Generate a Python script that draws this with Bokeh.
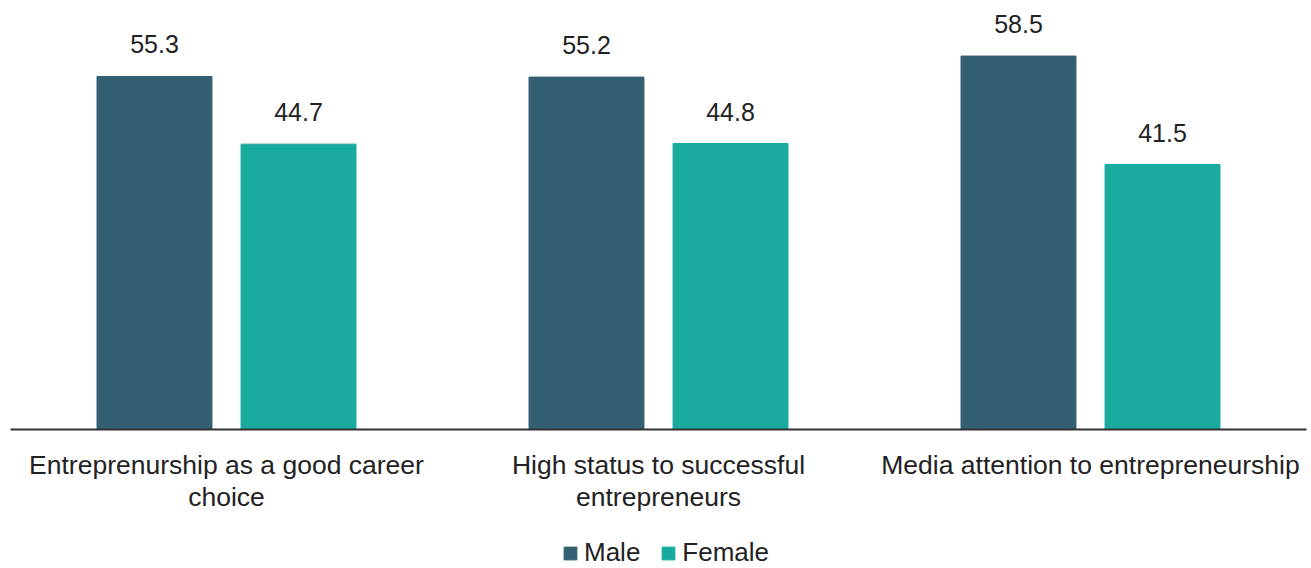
from bokeh.plotting import figure
from bokeh.layouts import column
from bokeh.models import ColumnDataSource, FactorRange, Range1d, Legend, LegendItem, LabelSet
from bokeh.core.properties import value
from bokeh.transform import dodge
from bokeh.embed import file_html
from bokeh.resources import INLINE

categories = ["Entreprenurship as a good career\nchoice",
              "High status to successful\nentrepreneurs",
              "Media attention to entrepreneurship"]
male = [55.3, 55.2, 58.5]
female = [44.7, 44.8, 41.5]
series = ["Male", "Female"]
colors = ["#325f72", "#19aa9f"]

src = ColumnDataSource(dict(cat=categories, male=male, female=female,
                            male_lbl=[f"{v:.1f}" for v in male],
                            female_lbl=[f"{v:.1f}" for v in female]))

FONT = "Liberation Sans"
p = figure(width=1311, height=514, x_range=FactorRange(*categories, range_padding=0),
           y_range=Range1d(0, 67.2), output_backend="svg", toolbar_location=None,
           min_border_left=10, min_border_right=5, min_border_top=0, min_border_bottom=85)

p.vbar(x=dodge("cat", -0.1667, range=p.x_range), top="male", width=0.266,
       source=src, color=colors[0])
p.vbar(x=dodge("cat", 0.1667, range=p.x_range), top="female", width=0.266,
       source=src, color=colors[1])

for col, lbl, off in [("male", "male_lbl", -0.1667), ("female", "female_lbl", 0.1667)]:
    ls = LabelSet(x=dodge("cat", off, range=p.x_range), y=col, text=lbl, source=src,
                  text_align="center", text_baseline="alphabetic", y_offset=23,
                  text_font=value(FONT), text_font_size="25px", text_color="#222222")
    p.add_layout(ls)

p.yaxis.visible = False
p.xgrid.visible = False
p.ygrid.visible = False
p.outline_line_color = None
p.xaxis.axis_line_color = "#333333"
p.xaxis.axis_line_width = 2
p.xaxis.major_tick_line_color = None
p.xaxis.minor_tick_line_color = None
p.xaxis.major_label_text_font = FONT
p.xaxis.major_label_text_font_size = "26.5px"
p.xaxis.major_label_text_color = "#222222"
p.xaxis.major_label_text_line_height = 1.08
p.xaxis.major_label_standoff = 14

# legend strip
p2 = figure(width=1311, height=54, x_range=Range1d(0, 1), y_range=Range1d(0, 1),
            output_backend="svg", toolbar_location=None, min_border=0)
p2.axis.visible = False
p2.grid.visible = False
p2.outline_line_color = None
hidden = ColumnDataSource(dict(x=[-50.0], top=[-50.0]))
l1 = p2.vbar(x="x", top="top", width=0.1, source=hidden, color=colors[0])
l2 = p2.vbar(x="x", top="top", width=0.1, source=hidden, color=colors[1])
legend = Legend(items=[LegendItem(label=series[0], renderers=[l1]),
                       LegendItem(label=series[1], renderers=[l2])],
                orientation="horizontal", location=(552, 0),
                label_text_font=FONT, label_text_font_size="26px", label_text_color="#222222",
                glyph_width=16, glyph_height=16, spacing=20, label_standoff=6,
                border_line_color=None, background_fill_alpha=0, padding=0, margin=0)
p2.add_layout(legend, "center")

layout = column(p, p2, spacing=0)
open("out.html", "w").write(file_html(layout, INLINE))
